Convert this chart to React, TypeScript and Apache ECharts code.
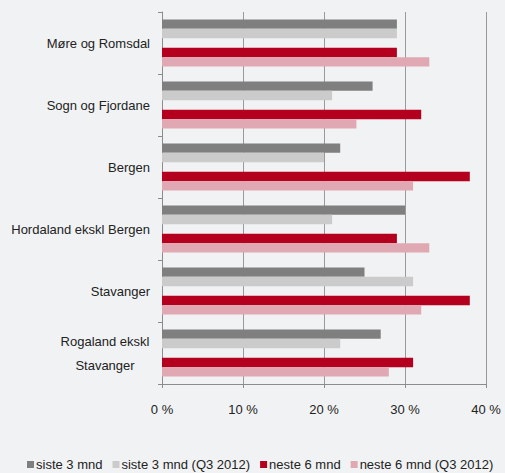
import React, { useEffect, useRef } from "react";
import * as echarts from "echarts";

const categories = [
  "Møre og Romsdal",
  "Sogn og Fjordane",
  "Bergen",
  "Hordaland ekskl Bergen",
  "Stavanger",
  "Rogaland ekskl Stavanger",
];
const siste3 = [29, 26, 22, 30, 25, 27];
const siste3Q3 = [29, 21, 20, 21, 31, 22];
const neste6 = [29, 32, 38, 29, 38, 31];
const neste6Q3 = [33, 24, 31, 33, 32, 28];
const xTicks = [0, 10, 20, 30, 40];
const seriesNames = ["siste 3 mnd", "siste 3 mnd (Q3 2012)", "neste 6 mnd", "neste 6 mnd (Q3 2012)"];
const colors = ["#7f7f7f", "#cbcbcc", "#b4001e", "#e0a8b2"];

const FONT = "'Liberation Sans', Arial, sans-serif";
const FS = 13;

export default function App() {
  const ref = useRef<HTMLDivElement>(null);
  useEffect(() => {
    if (!ref.current) return;
    const chart = echarts.init(ref.current, null, { renderer: "svg" });
    const mk = (name: string, data: number[], color: string) => ({
      name,
      type: "bar",
      data,
      barGap: "0%",
      barCategoryGap: "24%",
      itemStyle: { color },
      silent: true,
    });
    chart.setOption({
      animation: false,
      backgroundColor: "#f1f2f4",
      textStyle: { fontFamily: FONT },
      grid: { left: 162, right: 19, top: 12, bottom: 89, containLabel: false, outerBoundsMode: "none" },
      legend: {
        data: seriesNames,
        left: 27,
        top: 458,
        icon: "rect",
        itemWidth: 7,
        itemHeight: 7,
        itemGap: 10,
        padding: 0,
        textStyle: { fontFamily: FONT, fontSize: FS, color: "#222", padding: [0, 0, 0, -3] },
      },
      xAxis: {
        type: "value",
        min: 0,
        max: 40,
        interval: 10,
        axisLine: { show: true, lineStyle: { color: "#8c8c8c" } },
        axisTick: { show: true, length: 4, lineStyle: { color: "#8c8c8c" } },
        splitLine: { show: true, lineStyle: { color: "#9a9a9a", width: 1 } },
        axisLabel: {
          formatter: (v: number) => (xTicks.includes(v) ? `${v} %` : ""),
          fontFamily: FONT,
          fontSize: FS,
          color: "#222",
          margin: 19,
        },
      },
      yAxis: {
        type: "category",
        inverse: true,
        data: categories,
        axisLine: { show: true, lineStyle: { color: "#8c8c8c" } },
        axisTick: { show: true, length: 4, lineStyle: { color: "#8c8c8c" } },
        splitLine: { show: false },
        axisLabel: {
          fontFamily: FONT,
          fontSize: FS,
          color: "#222",
          margin: 12,
          formatter: (v: string) =>
            v === "Rogaland ekskl Stavanger" ? "{c|Rogaland ekskl}\n{c|Stavanger}" : v,
          rich: {
            c: { width: 90, align: "center", fontFamily: FONT, fontSize: FS, color: "#222", lineHeight: 24 },
          },
        },
      },
      series: [
        mk(seriesNames[0], siste3, colors[0]),
        mk(seriesNames[1], siste3Q3, colors[1]),
        { name: "gap", type: "bar", data: categories.map(() => null), barGap: "0%", barCategoryGap: "24%" },
        mk(seriesNames[2], neste6, colors[2]),
        mk(seriesNames[3], neste6Q3, colors[3]),
      ],
    });
    return () => chart.dispose();
  }, []);
  return <div ref={ref} style={{ width: 505, height: 473, position: "absolute", left: 0, top: 0 }} />;
}
